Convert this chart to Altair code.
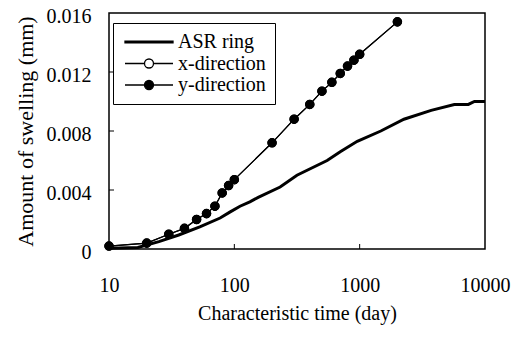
import altair as alt
import pandas as pd

# ASR ring (thick line)
asr_t = [10, 17, 25, 36, 53, 77, 92, 111, 133, 155, 232, 316, 550, 700, 957,
         1475, 2256, 3720, 5690, 7360, 8240, 10000]
asr_v = [0.00005, 0.0001, 0.0005, 0.00095, 0.0015, 0.0021, 0.0025, 0.0029,
         0.0032, 0.0035, 0.0042, 0.0050, 0.0060, 0.0066, 0.0073, 0.0080,
         0.0088, 0.0094, 0.0098, 0.0098, 0.0100, 0.0100]

# x-direction (open circles, hidden under y-direction)
xdir_t = [10, 20, 30, 40, 50, 60, 70, 80, 90, 100, 200, 300, 400, 500, 600,
          700, 800, 900, 1000, 2000]
xdir_v = [0.0002, 0.0004, 0.001, 0.0014, 0.002, 0.0024, 0.0029, 0.0038,
          0.0043, 0.0047, 0.0072, 0.0088, 0.0098, 0.0107, 0.0113, 0.0119,
          0.0124, 0.0128, 0.0132, 0.0154]

# y-direction (filled circles)
ydir_t = [10, 20, 30, 40, 50, 60, 70, 80, 90, 100, 200, 300, 400, 500, 600,
          700, 800, 900, 1000, 2000]
ydir_v = [0.0002, 0.0004, 0.001, 0.0014, 0.002, 0.0024, 0.0029, 0.0038,
          0.0043, 0.0047, 0.0072, 0.0088, 0.0098, 0.0107, 0.0113, 0.0119,
          0.0124, 0.0128, 0.0132, 0.0154]

series_names = ["ASR ring", "x-direction", "y-direction"]
x_tick_values = [10, 100, 1000, 10000]
y_tick_values = [0, 0.004, 0.008, 0.012, 0.016]
x_inner_ticks = [100, 1000]
y_inner_ticks = [0.004, 0.008, 0.012]

FONT = "'Liberation Serif', 'DejaVu Serif', serif"

asr_df = pd.DataFrame({"t": asr_t, "v": asr_v})
x_df = pd.DataFrame({"t": xdir_t, "v": xdir_v})
y_df = pd.DataFrame({"t": ydir_t, "v": ydir_v})
xt_df = pd.DataFrame({"t": x_inner_ticks})
yt_df = pd.DataFrame({"v": y_inner_ticks})
leg_df = pd.DataFrame({"series": series_names})

xscale = alt.Scale(type="log", domain=[10, 10000], nice=False)
yscale = alt.Scale(domain=[0, 0.016], nice=False, zero=True)

xaxis = alt.Axis(values=x_tick_values, format="d", ticks=False, domain=False,
                 grid=False, labelPadding=26, labelFlush=False,
                 labelOverlap=False, labelFont=FONT, labelFontSize=20,
                 labelColor="black", title="Characteristic time (day)",
                 titleFont=FONT, titleFontSize=20, titleFontWeight="normal",
                 titleColor="black", titlePadding=8)
yaxis = alt.Axis(values=y_tick_values,
                 labelExpr="datum.value == 0 ? '0' : format(datum.value, '.3f')",
                 ticks=False, domain=False, grid=False, labelPadding=18,
                 labelOffset=3, labelFlush=False, labelOverlap=False,
                 labelFont=FONT, labelFontSize=20, labelColor="black",
                 title="Amount of swelling (mm)", titleFont=FONT,
                 titleFontSize=22, titleFontWeight="normal",
                 titleColor="black", titlePadding=9)


def X():
    return alt.X("t:Q", scale=xscale, axis=xaxis)


def Y():
    return alt.Y("v:Q", scale=yscale, axis=yaxis)


asr_line = alt.Chart(asr_df).mark_line(color="black", strokeWidth=3).encode(x=X(), y=Y())
x_line = alt.Chart(x_df).mark_line(color="black", strokeWidth=1.2).encode(x=X(), y=Y())
x_pts = alt.Chart(x_df).mark_point(shape="circle", filled=True, fill="white",
                                   stroke="black", strokeWidth=1.2, size=70,
                                   opacity=1).encode(x=X(), y=Y())
y_line = alt.Chart(y_df).mark_line(color="black", strokeWidth=1.2).encode(x=X(), y=Y())
y_pts = alt.Chart(y_df).mark_point(shape="circle", filled=True, fill="black",
                                   stroke="black", strokeWidth=1, size=70,
                                   opacity=1).encode(x=X(), y=Y())

xticks = alt.Chart(xt_df).mark_rule(color="black", strokeWidth=1).encode(
    x=X(), y=alt.value(236), y2=alt.value(231))
yticks = alt.Chart(yt_df).mark_rule(color="black", strokeWidth=1).encode(
    y=Y(), x=alt.value(0), x2=alt.value(5))

asr_path = "M-4.8,-0.15H4.8V0.15H-4.8Z"
dot_path = ("M-4.8,0H-0.9M0.9,0H4.8M0.9,0A0.9,0.9 0 1,1 -0.9,0"
            "A0.9,0.9 0 1,1 0.9,0Z")

legend = alt.Legend(orient="none", legendX=4, legendY=10, title=None,
                    padding=9, rowPadding=1.5, symbolOffset=17, labelOffset=19,
                    labelFont=FONT, labelFontSize=20, labelColor="black",
                    labelLimit=500, strokeColor="black", symbolSize=100,
                    symbolStrokeWidth=1.3, symbolOpacity=1)

leg = alt.Chart(leg_df).mark_point(filled=True, size=100, opacity=1, clip=True,
                                   strokeWidth=1.3).encode(
    x=alt.value(-300), y=alt.value(-300),
    shape=alt.Shape("series:N",
                    scale=alt.Scale(domain=series_names,
                                    range=[asr_path, dot_path, dot_path]),
                    legend=legend),
    fill=alt.Fill("series:N",
                  scale=alt.Scale(domain=series_names,
                                  range=["black", "white", "black"]),
                  legend=legend),
    stroke=alt.Stroke("series:N",
                      scale=alt.Scale(domain=series_names,
                                      range=["black", "black", "black"]),
                      legend=legend),
)

chart = alt.layer(asr_line, x_line, x_pts, y_line, y_pts, xticks, yticks, leg).properties(
    width=376, height=236,
    autosize=alt.AutoSizeParams(type="none"),
    padding={"left": 101, "top": 5, "right": 26, "bottom": 80},
).configure_view(stroke="black", strokeWidth=1.5).configure_legend(strokeWidth=1)

chart.save("out.html", embed_options={"renderer": "svg", "actions": False})
